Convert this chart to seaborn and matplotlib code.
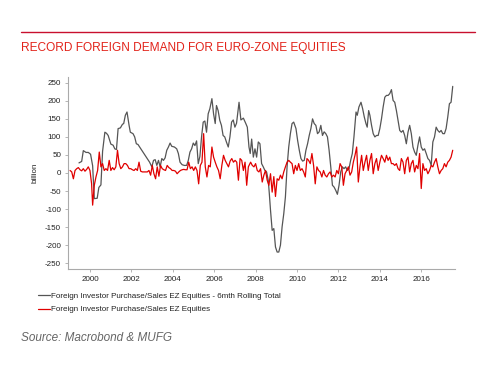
import matplotlib
matplotlib.use("Agg")
import matplotlib.pyplot as plt
import seaborn as sns
import pandas as pd
from matplotlib.lines import Line2D

# ---------------- data ----------------
title = "RECORD FOREIGN DEMAND FOR EURO-ZONE EQUITIES"
source = "Source: Macrobond & MUFG"
ylabel = "billion"
gray_label = "Foreign Investor Purchase/Sales EZ Equities - 6mth Rolling Total"
red_label = "Foreign Investor Purchase/Sales EZ Equities"
x_ticks = [2000, 2002, 2004, 2006, 2008, 2010, 2012, 2014, 2016]
y_ticks = [-250, -200, -150, -100, -50, 0, 50, 100, 150, 200, 250]

gray_year = [
    1999.47, 1999.60, 1999.68, 1999.81, 1999.92, 2000.03, 2000.13, 2000.21, 2000.35, 2000.43,
    2000.53, 2000.61, 2000.72, 2000.80, 2000.88, 2001.01, 2001.12, 2001.20, 2001.28, 2001.36,
    2001.47, 2001.57, 2001.63, 2001.71, 2001.79, 2001.89, 2001.95, 2002.08, 2002.16, 2002.24,
    2002.32, 2002.40, 2002.56, 2002.72, 2002.88, 2002.99, 2003.07, 2003.15, 2003.23, 2003.31,
    2003.39, 2003.47, 2003.55, 2003.63, 2003.71, 2003.79, 2003.87, 2003.95, 2004.08, 2004.19,
    2004.27, 2004.35, 2004.45, 2004.56, 2004.67, 2004.75, 2004.83, 2004.91, 2004.99, 2005.07,
    2005.15, 2005.23, 2005.31, 2005.39, 2005.47, 2005.55, 2005.63, 2005.71, 2005.79, 2005.89,
    2005.97, 2006.05, 2006.11, 2006.19, 2006.27, 2006.35, 2006.43, 2006.51, 2006.59, 2006.68,
    2006.76, 2006.84, 2006.92, 2007.00, 2007.08, 2007.20, 2007.29, 2007.41, 2007.52, 2007.60,
    2007.68, 2007.74, 2007.81, 2007.89, 2007.97, 2008.05, 2008.13, 2008.21, 2008.29, 2008.37,
    2008.45, 2008.53, 2008.61, 2008.66, 2008.72, 2008.80, 2008.88, 2008.96, 2009.04, 2009.12,
    2009.20, 2009.28, 2009.36, 2009.44, 2009.52, 2009.60, 2009.68, 2009.76, 2009.84, 2009.95,
    2010.03, 2010.11, 2010.19, 2010.27, 2010.35, 2010.43, 2010.51, 2010.59, 2010.67, 2010.75,
    2010.83, 2010.91, 2010.99, 2011.07, 2011.15, 2011.23, 2011.31, 2011.39, 2011.47, 2011.55,
    2011.63, 2011.71, 2011.79, 2011.87, 2011.95, 2012.03, 2012.11, 2012.19, 2012.27, 2012.35,
    2012.43, 2012.51, 2012.59, 2012.67, 2012.75, 2012.85, 2012.91, 2012.99, 2013.09, 2013.17,
    2013.25, 2013.33, 2013.39, 2013.46, 2013.52, 2013.60, 2013.68, 2013.76, 2013.84, 2013.92,
    2014.00, 2014.08, 2014.16, 2014.24, 2014.32, 2014.40, 2014.48, 2014.56, 2014.64, 2014.72,
    2014.80, 2014.88, 2014.96, 2015.04, 2015.12, 2015.20, 2015.28, 2015.36, 2015.44, 2015.52,
    2015.60, 2015.68, 2015.76, 2015.84, 2015.92, 2016.00, 2016.08, 2016.16, 2016.24, 2016.32,
    2016.40, 2016.48, 2016.56, 2016.64, 2016.72, 2016.80, 2016.88, 2016.96, 2017.04, 2017.12,
    2017.20, 2017.28, 2017.36, 2017.44, 2017.52,
]
gray_val = [
    28, 32, 62, 57, 57, 52, 20, -71, -70, -40,
    -33, 60, 113, 110, 104, 80, 77, 67, 65, 123,
    125, 135, 137, 160, 169, 132, 113, 109, 100, 81,
    79, 72, 58, 44, 30, 17, 35, 37, 21, 35,
    17, 40, 35, 42, 63, 72, 83, 74, 72, 67,
    54, 30, 23, 21, 21, 35, 58, 67, 83, 76,
    89, 26, 46, 100, 141, 144, 113, 164, 178, 206,
    164, 137, 187, 173, 146, 132, 104, 100, 86, 72,
    100, 141, 147, 127, 138, 196, 147, 152, 138, 127,
    72, 54, 94, 44, 67, 44, 86, 81, 26, 17,
    7, 3, -20, -55, -103, -159, -154, -205, -219, -219,
    -200, -149, -113, -66, 17, 72, 109, 137, 141, 123,
    90, 63, 40, 33, 35, 63, 81, 104, 123, 150,
    137, 132, 109, 114, 132, 104, 114, 109, 100, 63,
    17, -34, -39, -48, -59, -34, 3, 17, 12, 17,
    7, 12, 35, 54, 100, 169, 160, 183, 196, 178,
    155, 137, 127, 173, 160, 132, 109, 100, 104, 104,
    123, 150, 183, 210, 215, 215, 220, 231, 201, 196,
    173, 146, 118, 113, 118, 104, 81, 113, 132, 109,
    72, 58, 49, 77, 100, 72, 63, 67, 54, 40,
    35, 21, 86, 100, 127, 118, 113, 118, 109, 109,
    123, 155, 192, 196, 240,
]

red_year = [
    1999.04, 1999.12, 1999.20, 1999.28, 1999.36, 1999.44, 1999.52, 1999.60, 1999.68, 1999.76,
    1999.84, 1999.92, 2000.00, 2000.08, 2000.13, 2000.21, 2000.29, 2000.37, 2000.45, 2000.53,
    2000.61, 2000.69, 2000.77, 2000.85, 2000.93, 2001.01, 2001.09, 2001.17, 2001.25, 2001.33,
    2001.41, 2001.49, 2001.57, 2001.65, 2001.73, 2001.81, 2001.89, 2001.97, 2002.05, 2002.13,
    2002.21, 2002.29, 2002.37, 2002.45, 2002.53, 2002.61, 2002.69, 2002.77, 2002.85, 2002.93,
    2003.01, 2003.09, 2003.17, 2003.25, 2003.33, 2003.41, 2003.49, 2003.57, 2003.65, 2003.73,
    2003.81, 2003.89, 2003.97, 2004.05, 2004.13, 2004.21, 2004.29, 2004.37, 2004.45, 2004.53,
    2004.61, 2004.69, 2004.77, 2004.85, 2004.93, 2005.01, 2005.09, 2005.17, 2005.25, 2005.33,
    2005.41, 2005.49, 2005.57, 2005.65, 2005.73, 2005.81, 2005.89, 2005.97, 2006.05, 2006.13,
    2006.21, 2006.29, 2006.37, 2006.45, 2006.53, 2006.61, 2006.69, 2006.77, 2006.85, 2006.93,
    2007.01, 2007.09, 2007.17, 2007.25, 2007.33, 2007.41, 2007.49, 2007.57, 2007.65,
    2007.76, 2007.84, 2007.92, 2008.00, 2008.08, 2008.16, 2008.24, 2008.32, 2008.40, 2008.48,
    2008.56, 2008.64, 2008.72, 2008.80, 2008.88, 2008.96, 2009.04, 2009.12, 2009.20, 2009.28,
    2009.36, 2009.44, 2009.52, 2009.60, 2009.68, 2009.76, 2009.84, 2009.92, 2010.00, 2010.08,
    2010.16, 2010.24, 2010.32, 2010.40, 2010.48, 2010.56, 2010.64, 2010.72, 2010.80, 2010.88,
    2010.96, 2011.04, 2011.12, 2011.20, 2011.28, 2011.36, 2011.44, 2011.52, 2011.60, 2011.68,
    2011.76, 2011.84, 2011.92, 2012.00, 2012.08, 2012.16, 2012.24, 2012.32, 2012.40, 2012.48,
    2012.56, 2012.64, 2012.72, 2012.80, 2012.88, 2012.96, 2013.04, 2013.12, 2013.20, 2013.28,
    2013.36, 2013.44, 2013.52, 2013.60, 2013.68, 2013.76, 2013.84, 2013.92, 2014.00, 2014.08,
    2014.16, 2014.24, 2014.32, 2014.40, 2014.48, 2014.56, 2014.64, 2014.72, 2014.80, 2014.88,
    2014.96, 2015.04, 2015.12, 2015.20, 2015.28, 2015.36, 2015.44, 2015.52, 2015.60, 2015.68,
    2015.76, 2015.84, 2015.92, 2016.00, 2016.08, 2016.16, 2016.24, 2016.32, 2016.40, 2016.48,
    2016.56, 2016.64, 2016.72, 2016.80, 2016.88, 2016.96, 2017.04, 2017.12, 2017.20, 2017.28,
    2017.36, 2017.44, 2017.52,
]
red_val = [
    7, 3, -16, 7, 12, 15, 9, 6, 12, 5,
    10, 17, 7, -30, -89, -34, -11, 7, 58, 17,
    26, 7, 12, 7, 35, 7, 15, 9, 17, 63,
    26, 12, 17, 26, 26, 21, 12, 12, 9, 7,
    12, 7, 30, 5, 3, 3, 3, 3, 7, -6,
    21, -2, -16, 17, -9, 21, 12, 9, 7, 21,
    15, 12, 7, 7, 5, -2, 3, 7, 9, 10,
    9, 9, 30, 12, 17, 7, 17, 7, -30, 21,
    30, 109, 17, -11, 21, 17, 72, 44, 30, 17,
    7, -16, 21, 49, 35, 26, 17, 33, 40, 30,
    35, 30, -20, 40, 35, 7, 30, -34, 17,
    30, 21, 17, 26, 7, 3, 12, -25, -6, 7,
    -20, -34, -2, -53, -10, -65, -16, -20, -6, -16,
    3, 17, 30, 35, 30, 26, -2, 21, 7, 26,
    7, 12, 3, -11, 40, 35, 26, 54, 21, -30,
    17, 7, 3, -11, 7, -6, -11, -2, 3, -11,
    -6, -11, 7, -2, 26, 17, -34, -2, 7, 17,
    -6, 3, 30, 49, 72, -25, 17, 49, 7, 30,
    49, 7, 35, 54, -2, 26, 40, 7, 30, 49,
    40, 30, 49, 35, 44, 26, 26, 21, 26, 12,
    7, 40, 30, -2, 35, 44, 3, 26, 35, 3,
    21, 12, 54, -43, 26, 7, 12, -2, 7, 21,
    17, 30, 40, 17, -2, 7, 12, 26, 17, 30,
    35, 44, 63,
]

gray_color = "#555555"
red_color = "#e00000"

# ---------------- figure ----------------
sns.set_style("ticks")
plt.rcParams["font.family"] = ["Liberation Sans", "DejaVu Sans"]
plt.rcParams["axes.unicode_minus"] = False

W, H = 499, 369
fig = plt.figure(figsize=(W / 100, H / 100), dpi=100)
ax = fig.add_axes([68 / W, 1 - 269 / H, (455 - 68) / W, (269 - 77) / H])

df = pd.concat([
    pd.DataFrame({"year": gray_year, "value": gray_val, "series": gray_label}),
    pd.DataFrame({"year": red_year, "value": red_val, "series": red_label}),
], ignore_index=True)

sns.lineplot(data=df, x="year", y="value", hue="series",
             hue_order=[gray_label, red_label],
             palette={gray_label: gray_color, red_label: red_color},
             estimator=None, sort=False, linewidth=0.9, ax=ax)

ax.set_xlim(1998.94, 2017.63)
ax.set_ylim(-266, 266)
ax.set_xticks(x_ticks)
ax.set_xticklabels([str(t) for t in x_ticks])
ax.set_yticks(y_ticks)
ax.set_yticklabels([str(t) for t in y_ticks])
ax.set_xlabel("")
ax.set_ylabel(ylabel, fontsize=5.8, color="#222222")
ax.yaxis.set_label_coords((39 - 68) / (455 - 68), 0.5)

for s in ["top", "right"]:
    ax.spines[s].set_visible(False)
for s in ["left", "bottom"]:
    ax.spines[s].set_color("#aaaaaa")
    ax.spines[s].set_linewidth(0.8)
ax.tick_params(axis="both", length=2.5, width=0.6, color="#aaaaaa",
               labelsize=5.8, labelcolor="#222222")
ax.tick_params(axis="x", pad=2.5)
ax.tick_params(axis="y", pad=2.5)

# legend below the plot
handles = [Line2D([], [], color=gray_color, lw=0.9),
           Line2D([], [], color=red_color, lw=0.9)]
ax.get_legend().remove()
fig.legend(handles, [gray_label, red_label], loc="upper left",
           bbox_to_anchor=(38 / W, 1 - 292.5 / H), frameon=False,
           fontsize=5.8, handlelength=1.45, handletextpad=0.2,
           labelspacing=0.7, borderpad=0, borderaxespad=0,
           labelcolor="#222222")

# title, rule and source
fig.add_artist(Line2D([21 / W, 475 / W], [1 - 32.3 / H] * 2,
                      color="#c8102e", lw=1.0, transform=fig.transFigure))
fig.text(21 / W, 1 - 47.7 / H, title, color="#e2231a", fontsize=8.6,
         ha="left", va="center")
fig.text(21 / W, 1 - 337.7 / H, source, color="#666666", fontsize=8.5,
         style="italic", ha="left", va="center")

fig.savefig("out.png", dpi=100)
